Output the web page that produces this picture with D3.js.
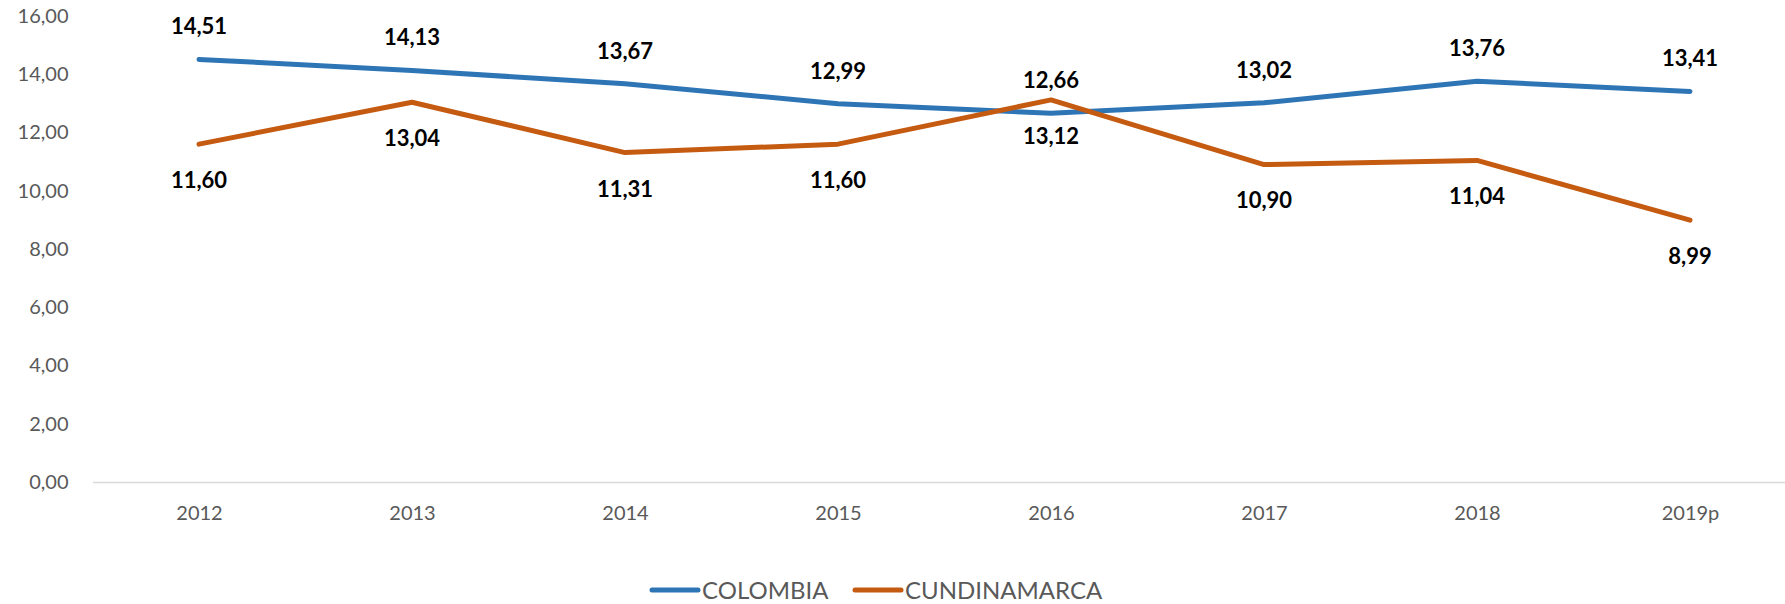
<!DOCTYPE html>
<html>
<head>
<meta charset="utf-8">
<script src="https://cdn.jsdelivr.net/npm/d3@7"></script>
<style>
  body { margin: 0; background: #fff; }
  svg { display: block; font-family: Lato, "Open Sans", sans-serif; }
</style>
</head>
<body>
<div id="chart"></div>
<script>
// data
var years = ["2012", "2013", "2014", "2015", "2016", "2017", "2018", "2019p"];
var colombia = [14.51, 14.13, 13.67, 12.99, 12.66, 13.02, 13.76, 13.41];
var cundinamarca = [11.60, 13.04, 11.31, 11.60, 13.12, 10.90, 11.04, 8.99];
var yTicks = [0, 2, 4, 6, 8, 10, 12, 14, 16];
var seriesNames = ["COLOMBIA", "CUNDINAMARCA"];
var seriesColors = ["#2E75B6", "#C55A11"];

var width = 1785, height = 604;
var plotLeft = 92.5, plotBottom = 482, plotTop = 16;

var svg = d3.select("#chart").append("svg")
    .attr("width", width)
    .attr("height", height);

// plot runs a bit past the right edge like in the original
var x = d3.scalePoint()
    .domain(years)
    .range([plotLeft, plotLeft + 8 * 213])
    .padding(0.5);

var y = d3.scaleLinear()
    .domain([0, 16])
    .range([plotBottom, plotTop]);

function fmt(v) {
    return d3.format(".2f")(v).replace(".", ",");
}

// y axis
var yAxis = svg.append("g")
    .attr("transform", "translate(" + plotLeft + ",0)")
    .call(d3.axisLeft(y).tickValues(yTicks).tickSize(0).tickPadding(24).tickFormat(fmt));
yAxis.attr("font-family", null).attr("font-size", null);
yAxis.select(".domain").remove();
yAxis.selectAll("text")
    .attr("fill", "#595959")
    .style("font-size", "20px");

// x axis
var xAxis = svg.append("g")
    .attr("transform", "translate(0," + plotBottom + ")")
    .call(d3.axisBottom(x).tickSize(0).tickSizeOuter(0).tickPadding(36));
xAxis.attr("font-family", null).attr("font-size", null);
xAxis.select(".domain").attr("stroke", "#D9D9D9").attr("stroke-width", 1.5);
xAxis.selectAll("text")
    .attr("fill", "#595959")
    .attr("dy", "0.1em")
    .style("font-size", "20px");

var line = d3.line()
    .x(function (d, i) { return x(years[i]); })
    .y(function (d) { return y(d); });

var allSeries = [colombia, cundinamarca];

allSeries.forEach(function (vals, s) {
    svg.append("path")
        .datum(vals)
        .attr("d", line)
        .attr("fill", "none")
        .attr("stroke", seriesColors[s])
        .attr("stroke-width", 5)
        .attr("stroke-linejoin", "round")
        .attr("stroke-linecap", "round");
});

// labels: colombia above, cundinamarca below
allSeries.forEach(function (vals, s) {
    svg.append("g").selectAll("text")
        .data(vals)
        .join("text")
        .attr("x", function (d, i) { return x(years[i]); })
        .attr("y", function (d) { return y(d) + (s === 0 ? -33 : 36); })
        .attr("dy", "0.36em")
        .attr("text-anchor", "middle")
        .attr("font-weight", "bold")
        .style("font-size", "22px")
        .attr("fill", "#000")
        .text(fmt);
});

// legend
var legendX = [652, 855];
var legend = svg.append("g");
seriesNames.forEach(function (name, s) {
    legend.append("line")
        .attr("x1", legendX[s]).attr("x2", legendX[s] + 46)
        .attr("y1", 590).attr("y2", 590)
        .attr("stroke", seriesColors[s])
        .attr("stroke-width", 5)
        .attr("stroke-linecap", "round");
    legend.append("text")
        .attr("x", legendX[s] + 50)
        .attr("y", 590)
        .attr("dy", "0.36em")
        .attr("fill", "#595959")
        .style("font-size", "24px")
        .text(name);
});
</script>
</body>
</html>
